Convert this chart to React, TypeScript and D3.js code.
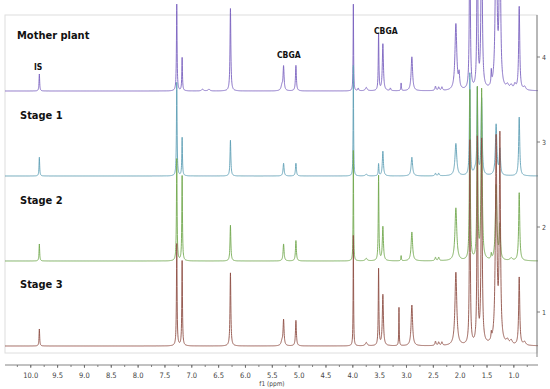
import React from "react";
import * as d3 from "d3";

// chemical shift axis
const ppmTicks = [10.0, 9.5, 9.0, 8.5, 8.0, 7.5, 7.0, 6.5, 6.0, 5.5, 5.0, 4.5, 4.0, 3.5, 3.0, 2.5, 2.0, 1.5, 1.0];
const intensityTicks = [1, 2, 3, 4];

const sampleNames = ["Mother plant", "Stage 1", "Stage 2", "Stage 3"];
const sampleOffsets = [3.6, 2.6, 1.6, 0.6];

// peaks: [ppm, height, half width]
const motherPeaks: number[][] = [
  [9.84, 0.2, 0.007], [7.28, 1.02, 0.007], [7.18, 0.39, 0.007], [6.8, 0.02, 0.02], [6.68, 0.02, 0.02],
  [6.28, 0.97, 0.009], [5.32, 0.06, 0.02], [5.29, 0.28, 0.011], [5.06, 0.3, 0.01], [3.99, 1.02, 0.005],
  [3.9, 0.03, 0.01], [3.75, 0.04, 0.02], [3.52, 0.67, 0.007], [3.44, 0.55, 0.012], [3.3, 0.03, 0.01],
  [3.1, 0.09, 0.006], [2.9, 0.4, 0.016], [2.46, 0.05, 0.012], [2.4, 0.04, 0.012], [2.34, 0.04, 0.012],
  [2.08, 0.78, 0.02], [2.02, 0.16, 0.012], [1.82, 2.4, 0.009], [1.68, 2.4, 0.009],
  [1.6, 2.4, 0.012], [1.42, 0.16, 0.007], [1.33, 2.4, 0.016], [1.26, 2.4, 0.013], [1.12, 0.05, 0.025],
  [1.05, 0.05, 0.025], [0.98, 0.06, 0.02], [0.9, 0.98, 0.012], [0.8, 0.04, 0.025],
];

const stage1Peaks: number[][] = [
  [9.84, 0.22, 0.007], [7.28, 1.1, 0.007], [7.18, 0.45, 0.007], [6.28, 0.42, 0.009], [5.29, 0.15, 0.011],
  [5.06, 0.15, 0.01], [3.99, 1.3, 0.005], [3.75, 0.02, 0.02], [3.52, 0.14, 0.007], [3.44, 0.29, 0.012],
  [2.9, 0.22, 0.016], [2.46, 0.03, 0.012], [2.4, 0.03, 0.012], [2.08, 0.38, 0.02],
  [1.82, 1.2, 0.009], [1.72, 0.06, 0.03], [1.68, 1.0, 0.009], [1.6, 0.9, 0.012], [1.33, 0.6, 0.016],
  [1.26, 0.3, 0.013], [0.9, 0.69, 0.012],
];

const stage2Peaks: number[][] = [
  [9.84, 0.2, 0.007], [7.28, 1.2, 0.007], [7.18, 1.0, 0.007], [6.28, 0.42, 0.009], [5.29, 0.2, 0.011],
  [5.06, 0.24, 0.01], [3.99, 1.3, 0.005], [3.75, 0.03, 0.02], [3.52, 1.0, 0.007], [3.44, 0.4, 0.012],
  [3.1, 0.06, 0.006], [2.9, 0.34, 0.016], [2.46, 0.04, 0.012], [2.4, 0.04, 0.012], [2.08, 0.62, 0.02],
  [1.82, 2.0, 0.009], [1.68, 2.0, 0.009], [1.6, 2.0, 0.012], [1.42, 0.06, 0.007],
  [1.33, 0.88, 0.016], [1.26, 0.4, 0.013], [1.05, 0.03, 0.025], [0.9, 0.8, 0.012],
];

const stage3Peaks: number[][] = [
  [9.84, 0.2, 0.007], [7.28, 1.2, 0.007], [7.18, 1.0, 0.007], [6.28, 0.86, 0.009], [5.32, 0.05, 0.02],
  [5.29, 0.3, 0.011], [5.06, 0.3, 0.01], [3.99, 1.3, 0.005], [3.75, 0.04, 0.02], [3.52, 0.9, 0.007],
  [3.44, 0.6, 0.012], [3.14, 0.45, 0.005], [2.9, 0.48, 0.016], [2.46, 0.05, 0.012], [2.4, 0.04, 0.012],
  [2.34, 0.04, 0.012], [2.08, 0.86, 0.02], [1.82, 2.4, 0.009], [1.68, 2.4, 0.009],
  [1.6, 2.4, 0.012], [1.42, 0.08, 0.007], [1.33, 2.4, 0.016], [1.26, 2.4, 0.013], [1.12, 0.05, 0.025],
  [1.05, 0.05, 0.025], [0.9, 0.8, 0.012], [0.8, 0.04, 0.025],
];

const samplePeaks = [motherPeaks, stage1Peaks, stage2Peaks, stage3Peaks];
const sampleColors = ["#7a62c0", "#5f9fb6", "#72a84e", "#8e4f45"];

const width = 550;
const height = 389;

export default function App() {
  const x = d3.scaleLinear().domain([10.48, 0.55]).range([5, 538]);
  const y = d3.scaleLinear().domain([1, 4]).range([312, 57]);

  const grid = d3.range(10.48, 0.55, -0.002);
  const line = d3.line<number[]>()
    .x(d => x(d[0]))
    .y(d => y(Math.min(d[1], 6)));

  const spectra = samplePeaks.map((peaks, i) =>
    grid.map(p => {
      let v = sampleOffsets[i];
      peaks.forEach(([c, h, w]) => {
        v += h * (w * w) / ((p - c) * (p - c) + w * w);
      });
      return [p, v];
    })
  );

  const minorTicks = d3.range(10.25, 0.55, -0.25);

  return (
    <svg width={width} height={height} style={{ position: "absolute", left: 0, top: 0, background: "#fff" }}>
      <rect x={5} y={15} width={532} height={338} fill="none" stroke="#dedede" strokeWidth={1} />

      {spectra.map((s, i) => (
        <path key={i} d={line(s) || ""} fill="none" stroke={sampleColors[i]} strokeWidth={0.9} />
      ))}

      {/* labels */}
      <g fontFamily="DejaVu Sans Condensed, DejaVu Sans, sans-serif" fontWeight="bold" fill="#111">
        <text x={17} y={39} fontSize={11}>{sampleNames[0]}</text>
        <text x={20} y={119} fontSize={11}>{sampleNames[1]}</text>
        <text x={20} y={204} fontSize={11}>{sampleNames[2]}</text>
        <text x={20} y={288} fontSize={11}>{sampleNames[3]}</text>
        <text x={34} y={70} fontSize={8.5}>IS</text>
        <text x={277} y={58} fontSize={8.5}>CBGA</text>
        <text x={374} y={34} fontSize={8.5}>CBGA</text>
      </g>

      {/* bottom axis */}
      <g stroke="#666" strokeWidth={0.8}>
        <line x1={5} x2={538} y1={365} y2={365} />
        {minorTicks.map((t, i) => (
          <line key={i} x1={x(t)} x2={x(t)} y1={365} y2={367} />
        ))}
        {ppmTicks.map((t, i) => (
          <line key={"m" + i} x1={x(t)} x2={x(t)} y1={365} y2={368} />
        ))}
      </g>
      <g fontFamily="DejaVu Sans Condensed, DejaVu Sans, sans-serif" fontSize={7.5} fill="#444" textAnchor="middle">
        {ppmTicks.map((t, i) => (
          <text key={i} x={x(t)} y={378}>{t.toFixed(1)}</text>
        ))}
        <text x={272} y={386} fontSize={6.5}>f1 (ppm)</text>
      </g>

      {/* right axis */}
      <g stroke="#666" strokeWidth={0.8}>
        <line x1={537} x2={537} y1={15} y2={357} />
        {intensityTicks.map((t, i) => (
          <line key={i} x1={537} x2={540} y1={y(t)} y2={y(t)} />
        ))}
      </g>
      <g fontFamily="DejaVu Sans Condensed, DejaVu Sans, sans-serif" fontSize={7} fill="#444">
        {intensityTicks.map((t, i) => (
          <text key={i} x={542} y={y(t) + 2.5}>{t}</text>
        ))}
      </g>
    </svg>
  );
}
